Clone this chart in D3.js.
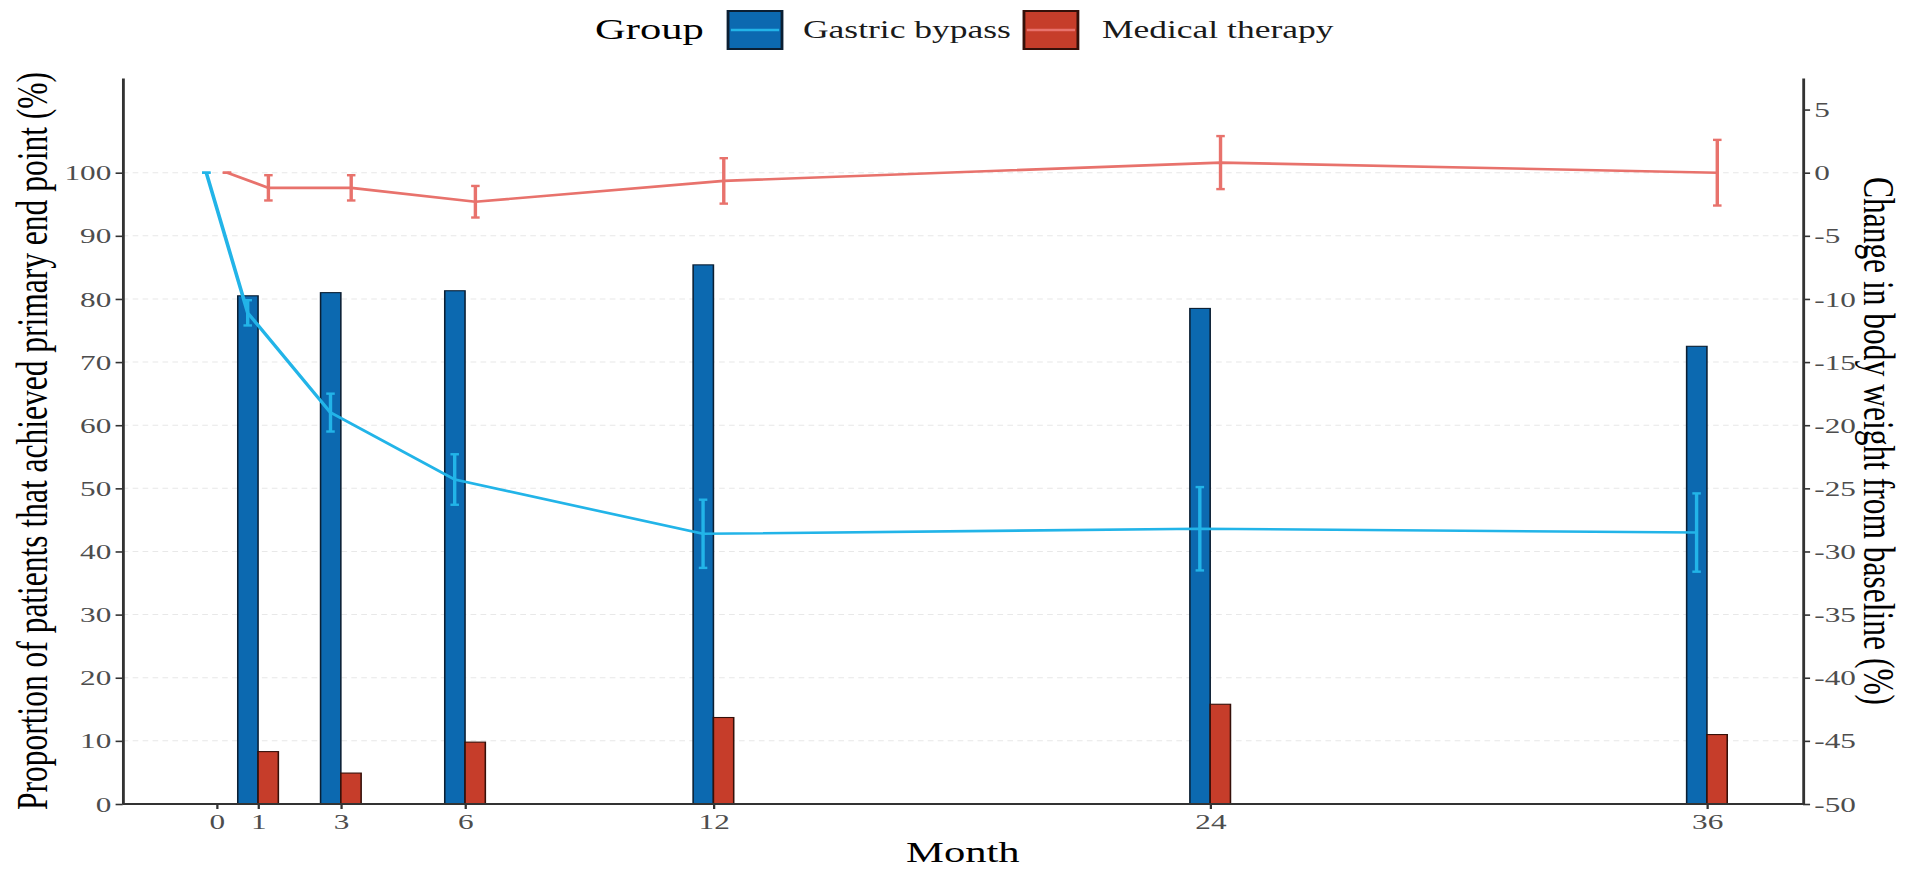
<!DOCTYPE html>
<html>
<head>
<meta charset="utf-8">
<script src="https://cdn.jsdelivr.net/npm/d3@7"></script>
<style>
  html, body { margin: 0; padding: 0; background: #ffffff; }
  svg { display: block; }
  text { font-family: "Liberation Serif", "Times New Roman", serif; }
</style>
</head>
<body>
<svg id="chart" width="1905" height="869"></svg>
<script>
// ---------------- DATA ----------------
const months = [0, 1, 3, 6, 12, 24, 36];
const tickMonths = [0, 1, 3, 6, 12, 24, 36];
const barMonths = [1, 3, 6, 12, 24, 36];
const bypassBar = [80.5, 81.0, 81.3, 85.4, 78.5, 72.5];
const medicalBar = [8.3, 4.9, 9.8, 13.7, 15.8, 11.0];
const bypassWeight = [0, -11.1, -19.0, -24.3, -28.6, -28.2, -28.5];
const bypassErr = [0, 1.0, 1.5, 2.0, 2.7, 3.3, 3.1];
const medicalWeight = [0, -1.2, -1.2, -2.3, -0.65, 0.8, 0.0];
const medicalErr = [0, 1.0, 1.0, 1.25, 1.8, 2.1, 2.6];
const groups = ["Gastric bypass", "Medical therapy"];
const leftTicks = [0, 10, 20, 30, 40, 50, 60, 70, 80, 90, 100];
const rightTicks = [-50, -45, -40, -35, -30, -25, -20, -15, -10, -5, 0, 5];

// ---------------- STYLE ----------------
const barFill = ["#0C69B0", "#C63D2A"];
const barStroke = ["#0b1f33", "#351009"];
const lineColor = ["#22B4E8", "#E8726C"];

// whole picture is horizontally stretched in the reference
const sx = 1.42;
const svg = d3.select("#chart");
const root = svg.append("g").attr("transform", `scale(${sx},1)`);

const plotLeft = 86.4, plotRight = 1269.7, plotTop = 78, plotBottom = 804;

const x = d3.scaleLinear().domain([-2.27, 38.32]).range([plotLeft, plotRight]);
const yL = d3.scaleLinear().domain([0, 115]).range([plotBottom, plotTop]);
const yR = d3.scaleLinear().domain([-50, 7.5]).range([plotBottom, plotTop]);

const dodge = 0.25;   // months
const barW = 0.49;    // months

// grid lines
root.append("g").selectAll("line").data(leftTicks.filter(d => d > 0)).join("line")
  .attr("x1", plotLeft).attr("x2", plotRight)
  .attr("y1", d => yL(d)).attr("y2", d => yL(d))
  .attr("stroke", "#e8e8e8").attr("stroke-width", 1).attr("stroke-dasharray", "4,3");

// bars
const barData = [];
barMonths.forEach((m, i) => {
  barData.push({ m, v: bypassBar[i], g: 0 });
  barData.push({ m, v: medicalBar[i], g: 1 });
});
root.append("g").selectAll("rect").data(barData).join("rect")
  .attr("x", d => d.g === 0 ? x(d.m - barW) : x(d.m))
  .attr("width", x(barW) - x(0))
  .attr("y", d => yL(d.v))
  .attr("height", d => yL(0) - yL(d.v))
  .attr("fill", d => barFill[d.g])
  .attr("stroke", d => barStroke[d.g])
  .attr("stroke-width", 1.1);

// lines + error bars
const series = [
  { g: 0, vals: bypassWeight, err: bypassErr, off: -dodge },
  { g: 1, vals: medicalWeight, err: medicalErr, off: dodge }
];
const capHalf = 3;
series.forEach(s => {
  const pts = months.map((m, i) => ({ m, v: s.vals[i], e: s.err[i] }));
  const line = d3.line().x(d => x(d.m + s.off)).y(d => yR(d.v));
  root.append("path").datum(pts)
    .attr("d", line).attr("fill", "none")
    .attr("stroke", lineColor[s.g]).attr("stroke-width", 2.6)
    .attr("stroke-linejoin", "round");
  const eb = root.append("g").attr("stroke", lineColor[s.g]).attr("stroke-width", 2.4);
  pts.forEach(d => {
    const cx = x(d.m + s.off);
    if (d.e > 0) {
      eb.append("line").attr("x1", cx).attr("x2", cx)
        .attr("y1", yR(d.v + d.e)).attr("y2", yR(d.v - d.e));
    }
    eb.append("line").attr("x1", cx - capHalf).attr("x2", cx + capHalf)
      .attr("y1", yR(d.v + d.e)).attr("y2", yR(d.v + d.e));
    eb.append("line").attr("x1", cx - capHalf).attr("x2", cx + capHalf)
      .attr("y1", yR(d.v - d.e)).attr("y2", yR(d.v - d.e));
  });
});

// axes
function styleAxis(g) {
  g.selectAll("path.domain").attr("stroke", "#333").attr("stroke-width", 2);
  g.selectAll(".tick line").attr("stroke", "#333").attr("stroke-width", 1.6);
  g.selectAll(".tick text").attr("fill", "#4d4d4d")
    .style("font-family", '"Liberation Serif", "Times New Roman", serif')
    .style("font-size", "22px");
  g.attr("font-family", null).attr("font-size", null);
}
const axL = root.append("g").attr("transform", `translate(${plotLeft},0)`)
  .call(d3.axisLeft(yL).tickValues(leftTicks).tickSize(5).tickSizeOuter(0).tickPadding(3));
styleAxis(axL);
const axR = root.append("g").attr("transform", `translate(${plotRight},0)`)
  .call(d3.axisRight(yR).tickValues(rightTicks).tickSize(5).tickSizeOuter(0).tickPadding(3)
    .tickFormat(d3.format("d")));
styleAxis(axR);
axR.selectAll(".tick text").text(d => d < 0 ? "-" + Math.abs(d) : d);
const axB = root.append("g").attr("transform", `translate(0,${plotBottom})`)
  .call(d3.axisBottom(x).tickValues(tickMonths).tickSize(5).tickSizeOuter(0).tickPadding(4)
    .tickFormat(d3.format("d")));
styleAxis(axB);
axB.select("path.domain").attr("d", `M${plotLeft},0H${plotRight}`);

// axis titles
root.append("text")
  .attr("transform", `translate(22.5,${(plotTop + plotBottom) / 2}) rotate(-90)`)
  .attr("text-anchor", "middle").attr("dominant-baseline", "central")
  .style("font-size", "31.5px").attr("fill", "#000")
  .text("Proportion of patients that achieved primary end point (%)");
root.append("text")
  .attr("transform", `translate(1323,${(plotTop + plotBottom) / 2}) rotate(90)`)
  .attr("text-anchor", "middle").attr("dominant-baseline", "central")
  .style("font-size", "31.5px").attr("fill", "#000")
  .text("Change in body weight from baseline (%)");
root.append("text")
  .attr("x", (plotLeft + plotRight) / 2).attr("y", 862)
  .attr("text-anchor", "middle")
  .style("font-size", "30px").attr("fill", "#000")
  .text("Month");

// legend
const leg = root.append("g");
leg.append("text").attr("x", 419).attr("y", 39)
  .style("font-size", "30px").attr("fill", "#000").text("Group");
const keyX = [512.7, 721.1], textX = [565.5, 776];
groups.forEach((gname, i) => {
  leg.append("rect").attr("x", keyX[i]).attr("y", 11).attr("width", 38).attr("height", 38)
    .attr("fill", barFill[i]).attr("stroke", barStroke[i]).attr("stroke-width", 2);
  leg.append("line").attr("x1", keyX[i] + 2).attr("x2", keyX[i] + 36)
    .attr("y1", 30).attr("y2", 30)
    .attr("stroke", lineColor[i]).attr("stroke-width", 2.4);
  leg.append("text").attr("x", textX[i]).attr("y", 38)
    .style("font-size", "25px").attr("fill", "#1a1a1a").text(gname);
});
</script>
</body>
</html>
